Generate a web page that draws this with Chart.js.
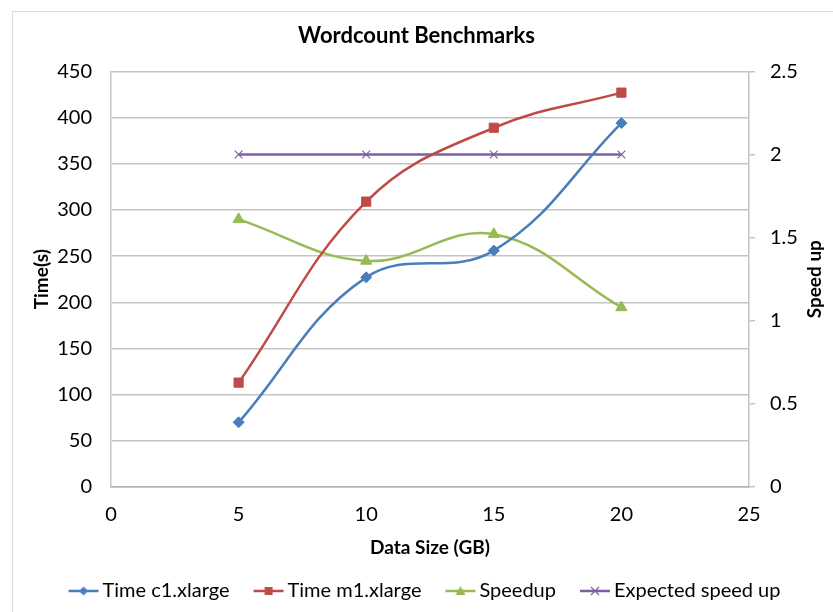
<!DOCTYPE html>
<html>
<head>
<meta charset="utf-8">
<script src="https://cdn.jsdelivr.net/npm/chart.js@4/dist/chart.umd.min.js"></script>
<style>
  html, body { margin: 0; padding: 0; background: #ffffff; }
  #wrap { position: relative; width: 833px; height: 612px; }
</style>
</head>
<body>
<div id="wrap"><canvas id="c" width="833" height="612"></canvas></div>
<script>
// ---- data ----
const xValues = [5, 10, 15, 20];
const timeC1 = [70, 227, 256, 394];
const timeM1 = [113, 309, 389, 427];
const speedup = [1.61, 1.36, 1.52, 1.08];
const expectedSpeedup = [2, 2, 2, 2];
const seriesNames = ['Time c1.xlarge', 'Time m1.xlarge', 'Speedup', 'Expected speed up'];
const xTickRange = [0, 25, 5];
const timeTickRange = [0, 450, 50];
const speedTickRange = [0, 2.5, 0.5];

const FONT = 'Lato, "Open Sans", sans-serif';
const colors = ['#4a7ebb', '#be4b48', '#98b954', '#7d60a0'];
const markers = ['rectRot', 'rect', 'triangle', 'crossRot'];
const markerRadius = [5.5, 6.5, 6.5, 5.5];

function pts(ys) { return xValues.map((x, i) => ({ x: x, y: ys[i] })); }

function legendIcon(i) {
  const cv = document.createElement('canvas');
  cv.width = 56; cv.height = 14;
  const g = cv.getContext('2d');
  g.strokeStyle = colors[i]; g.fillStyle = colors[i]; g.lineWidth = 2.5;
  g.beginPath(); g.moveTo(24, 7); g.lineTo(54, 7); g.stroke();
  const cx = 39, cy = 7;
  if (markers[i] === 'rectRot') {
    g.beginPath(); g.moveTo(cx, cy - 4.5); g.lineTo(cx + 4.5, cy); g.lineTo(cx, cy + 4.5); g.lineTo(cx - 4.5, cy); g.closePath(); g.fill();
  } else if (markers[i] === 'rect') {
    g.fillRect(cx - 4, cy - 4, 8, 8);
  } else if (markers[i] === 'triangle') {
    g.beginPath(); g.moveTo(cx, cy - 5); g.lineTo(cx + 5, cy + 4); g.lineTo(cx - 5, cy + 4); g.closePath(); g.fill();
  } else {
    g.lineWidth = 1.2;
    g.beginPath(); g.moveTo(cx - 4, cy - 4); g.lineTo(cx + 4, cy + 4); g.moveTo(cx + 4, cy - 4); g.lineTo(cx - 4, cy + 4); g.stroke();
  }
  return cv;
}
const icons = [0, 1, 2, 3].map(legendIcon);

const seriesData = [timeC1, timeM1, speedup, expectedSpeedup];
const datasets = seriesData.map((ys, i) => ({
  label: seriesNames[i],
  data: pts(ys),
  yAxisID: i >= 2 ? 'y1' : 'y',
  borderColor: colors[i],
  backgroundColor: colors[i],
  borderWidth: 2.5,
  pointStyle: markers[i],
  pointRadius: markerRadius[i],
  pointBorderWidth: markers[i] === 'crossRot' ? 1.2 : 1,
  pointBorderColor: colors[i],
  pointBackgroundColor: colors[i],
  tension: i === 3 ? 0 : 0.4,
  fill: false
}));

const frame = {
  id: 'frame',
  beforeDraw(chart) {
    const ctx = chart.ctx;
    ctx.save();
    ctx.strokeStyle = '#dcdcdc';
    ctx.lineWidth = 1;
    ctx.strokeRect(12.5, 11.5, 900, 700);
    ctx.restore();
  },
  afterDraw(chart) {
    const ctx = chart.ctx;
    const a = chart.chartArea;
    ctx.save();
    ctx.translate(815, (a.top + a.bottom) / 2);
    ctx.rotate(-Math.PI / 2);
    ctx.font = 'bold 19px ' + FONT;
    ctx.fillStyle = '#000';
    ctx.textAlign = 'center';
    ctx.textBaseline = 'middle';
    ctx.fillText('Speed up', 0, 0);
    ctx.restore();
  }
};

new Chart(document.getElementById('c'), {
  type: 'line',
  data: { datasets: datasets },
  plugins: [frame],
  options: {
    responsive: false,
    animation: false,
    layout: { padding: { left: 0, right: 0, top: 0, bottom: 1 } },
    plugins: {
      title: {
        display: true,
        text: 'Wordcount Benchmarks',
        color: '#000',
        font: { family: FONT, size: 22, weight: 'bold' },
        padding: { top: 23, bottom: 22 }
      },
      legend: {
        position: 'bottom',
        labels: {
          usePointStyle: true,
          pointStyleWidth: 40,
          padding: 8,
          color: '#000',
          font: { family: FONT, size: 20 },
          generateLabels(chart) {
            const items = Chart.defaults.plugins.legend.labels.generateLabels(chart);
            items.forEach((it, i) => { it.pointStyle = icons[i]; });
            return items;
          }
        }
      },
      tooltip: { enabled: false }
    },
    scales: {
      x: {
        type: 'linear',
        min: xTickRange[0], max: xTickRange[1],
        ticks: { stepSize: xTickRange[2], color: '#000', font: { family: FONT, size: 20 }, padding: 16 },
        grid: { display: false, drawTicks: false },
        border: { display: true, color: '#b0b0b0', width: 1.5 },
        title: { display: true, text: 'Data Size (GB)', color: '#000', font: { family: FONT, size: 19, weight: 'bold' }, padding: { top: 0, bottom: 14 } },
        afterFit(s) { s.height = 86; }
      },
      y: {
        position: 'left',
        min: timeTickRange[0], max: timeTickRange[1],
        ticks: { stepSize: timeTickRange[2], color: '#000', font: { family: FONT, size: 20 }, padding: 19 },
        grid: { color: '#c4c4c4', lineWidth: 1.5, drawTicks: false },
        border: { display: true, color: '#c4c4c4', width: 1.5 },
        title: { display: true, text: 'Time(s)', color: '#000', font: { family: FONT, size: 19, weight: 'bold' }, padding: { top: 30, bottom: 0 } },
        afterFit(s) { s.width = 111; }
      },
      y1: {
        position: 'right',
        min: speedTickRange[0], max: speedTickRange[1],
        ticks: { stepSize: speedTickRange[2], color: '#000', font: { family: FONT, size: 20 }, padding: 15, callback: (v) => String(v) },
        grid: { drawOnChartArea: false, drawTicks: true, tickLength: 6, color: '#c4c4c4', lineWidth: 1.5 },
        border: { display: true, color: '#c4c4c4', width: 1.5 },
        afterFit(s) { s.width = 84; }
      }
    }
  }
});
</script>
</body>
</html>
